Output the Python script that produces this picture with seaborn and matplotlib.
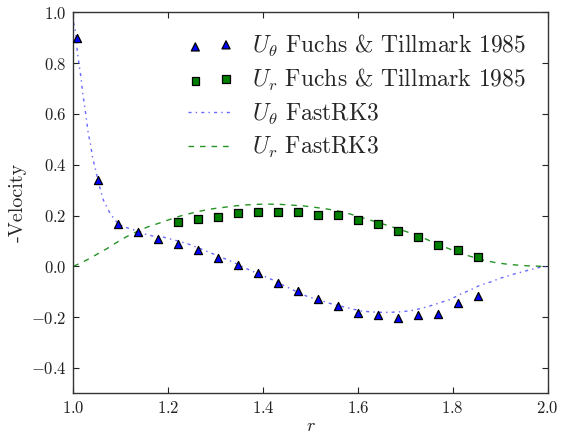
import numpy as np
import pandas as pd
import matplotlib
matplotlib.use("Agg")
import matplotlib.pyplot as plt
from matplotlib.ticker import FuncFormatter
import seaborn as sns

# ---- data ----
r_exp_theta = [1.007, 1.051, 1.094, 1.136, 1.179, 1.221, 1.263, 1.305, 1.348, 1.390,
               1.432, 1.474, 1.516, 1.558, 1.601, 1.643, 1.685, 1.727, 1.769, 1.812, 1.854]
u_exp_theta = [0.90, 0.34, 0.165, 0.137, 0.106, 0.089, 0.065, 0.034, 0.007, -0.026,
               -0.065, -0.099, -0.127, -0.158, -0.183, -0.193, -0.204, -0.193, -0.189, -0.145, -0.118]

r_exp_r = [1.221, 1.263, 1.305, 1.348, 1.390, 1.432, 1.474, 1.516, 1.558, 1.601,
           1.643, 1.685, 1.727, 1.769, 1.812, 1.854]
u_exp_r = [0.174, 0.188, 0.196, 0.209, 0.213, 0.213, 0.212, 0.204, 0.201, 0.183,
           0.167, 0.141, 0.114, 0.085, 0.065, 0.038]

r_sim_theta = [1.0, 1.0046, 1.008, 1.012, 1.016, 1.019, 1.023, 1.027, 1.031, 1.036,
               1.040, 1.045, 1.051, 1.057, 1.063, 1.070, 1.077, 1.085, 1.094, 1.109,
               1.123, 1.137, 1.151, 1.168, 1.19, 1.218, 1.242, 1.267, 1.30, 1.335,
               1.372, 1.40, 1.421, 1.442, 1.471, 1.495, 1.52, 1.541, 1.562, 1.583,
               1.604, 1.625, 1.646, 1.668, 1.689, 1.71, 1.731, 1.752, 1.773, 1.795,
               1.816, 1.837, 1.858, 1.879, 1.90, 1.928, 1.956, 1.981, 2.0]
u_sim_theta = [0.96, 0.922, 0.846, 0.791, 0.741, 0.689, 0.636, 0.584, 0.525, 0.480,
               0.431, 0.392, 0.345, 0.300, 0.261, 0.235, 0.209, 0.189, 0.168, 0.154,
               0.146, 0.139, 0.127, 0.119, 0.115, 0.101, 0.088, 0.070, 0.045, 0.018,
               -0.015, -0.037, -0.054, -0.074, -0.100, -0.120, -0.133, -0.146, -0.156, -0.165,
               -0.175, -0.179, -0.181, -0.181, -0.179, -0.175, -0.167, -0.156, -0.143, -0.130,
               -0.110, -0.093, -0.074, -0.062, -0.047, -0.031, -0.017, -0.005, 0.0]

r_sim_r = [1.0, 1.028, 1.049, 1.07, 1.091, 1.112, 1.133, 1.155, 1.179, 1.204,
           1.225, 1.25, 1.274, 1.295, 1.316, 1.341, 1.365, 1.386, 1.411, 1.436,
           1.46, 1.485, 1.506, 1.531, 1.555, 1.58, 1.619, 1.647, 1.668, 1.692,
           1.714, 1.735, 1.759, 1.78, 1.808, 1.829, 1.85, 1.871, 1.892, 1.917,
           1.942, 1.967, 2.0]
u_sim_r = [0.0, 0.025, 0.047, 0.069, 0.094, 0.117, 0.136, 0.154, 0.169, 0.185,
           0.198, 0.210, 0.220, 0.227, 0.232, 0.238, 0.242, 0.244, 0.245, 0.244,
           0.241, 0.238, 0.233, 0.227, 0.219, 0.208, 0.186, 0.170, 0.158, 0.143,
           0.129, 0.114, 0.095, 0.078, 0.058, 0.044, 0.032, 0.022, 0.014, 0.008,
           0.004, 0.001, 0.0]

labels = [r"$U_\theta$ Fuchs & Tillmark 1985", r"$U_r$ Fuchs & Tillmark 1985",
          r"$U_\theta$ FastRK3", r"$U_r$ FastRK3"]
x_ticks = [1.0, 1.2, 1.4, 1.6, 1.8, 2.0]
y_ticks = [-0.4, -0.2, 0.0, 0.2, 0.4, 0.6, 0.8, 1.0]

# ---- style ----
sns.set_style("ticks")
plt.rcParams["font.family"] = ["cmr10", "DejaVu Serif"]
plt.rcParams["mathtext.fontset"] = "cm"
plt.rcParams["axes.formatter.use_mathtext"] = True
plt.rcParams["lines.scale_dashes"] = False

fig = plt.figure(figsize=(5.61, 4.40), dpi=100)
ax = fig.add_axes([0.131, 0.106, 0.845, 0.866])

df_st = pd.DataFrame({"r": r_sim_theta, "u": u_sim_theta})
df_sr = pd.DataFrame({"r": r_sim_r, "u": u_sim_r})
df_et = pd.DataFrame({"r": r_exp_theta, "u": u_exp_theta})
df_er = pd.DataFrame({"r": r_exp_r, "u": u_exp_r})

sns.lineplot(data=df_st, x="r", y="u", ax=ax, color=(0.3, 0.3, 1.0), alpha=0.85,
             lw=1.0, sort=False, estimator=None)
ax.lines[-1].set_dashes((2.2, 3.0, 1.0, 3.0))
sns.lineplot(data=df_sr, x="r", y="u", ax=ax, color="#008000", alpha=0.85,
             lw=1.0, sort=False, estimator=None)
ax.lines[-1].set_dashes((4.0, 4.3))

sns.scatterplot(data=df_et, x="r", y="u", ax=ax, marker="^", s=34, color="#0000ff",
                edgecolor="black", linewidth=0.9, zorder=3)
sns.scatterplot(data=df_er, x="r", y="u", ax=ax, marker="s", s=30, color="#008000",
                edgecolor="black", linewidth=0.9, zorder=3)

ax.set_xlim(1.0, 2.0)
ax.set_ylim(-0.5, 1.0)
ax.set_xticks(x_ticks)
ax.set_yticks(y_ticks)
fmt = FuncFormatter(lambda v, p: r"$%.1f$" % v)
ax.xaxis.set_major_formatter(fmt)
ax.yaxis.set_major_formatter(fmt)
ax.tick_params(direction="in", length=4, width=0.8, top=True, right=True,
               labelsize=12, colors="#222222", pad=5)
for sp in ax.spines.values():
    sp.set_visible(True)
    sp.set_linewidth(1.0)
    sp.set_color("#333333")

ax.set_xlabel(r"$r$", fontsize=13, labelpad=2)
ax.set_ylabel("-Velocity", fontsize=14.5, labelpad=3)

handles = [ax.collections[0], ax.collections[1], ax.lines[0], ax.lines[1]]
leg = ax.legend(handles, labels, loc="upper right", bbox_to_anchor=(0.995, 0.995),
                frameon=False, fontsize=17, scatterpoints=2, handlelength=1.9,
                handletextpad=0.8, labelspacing=0.35, borderpad=0.3)

fig.savefig("out.png", dpi=100)
